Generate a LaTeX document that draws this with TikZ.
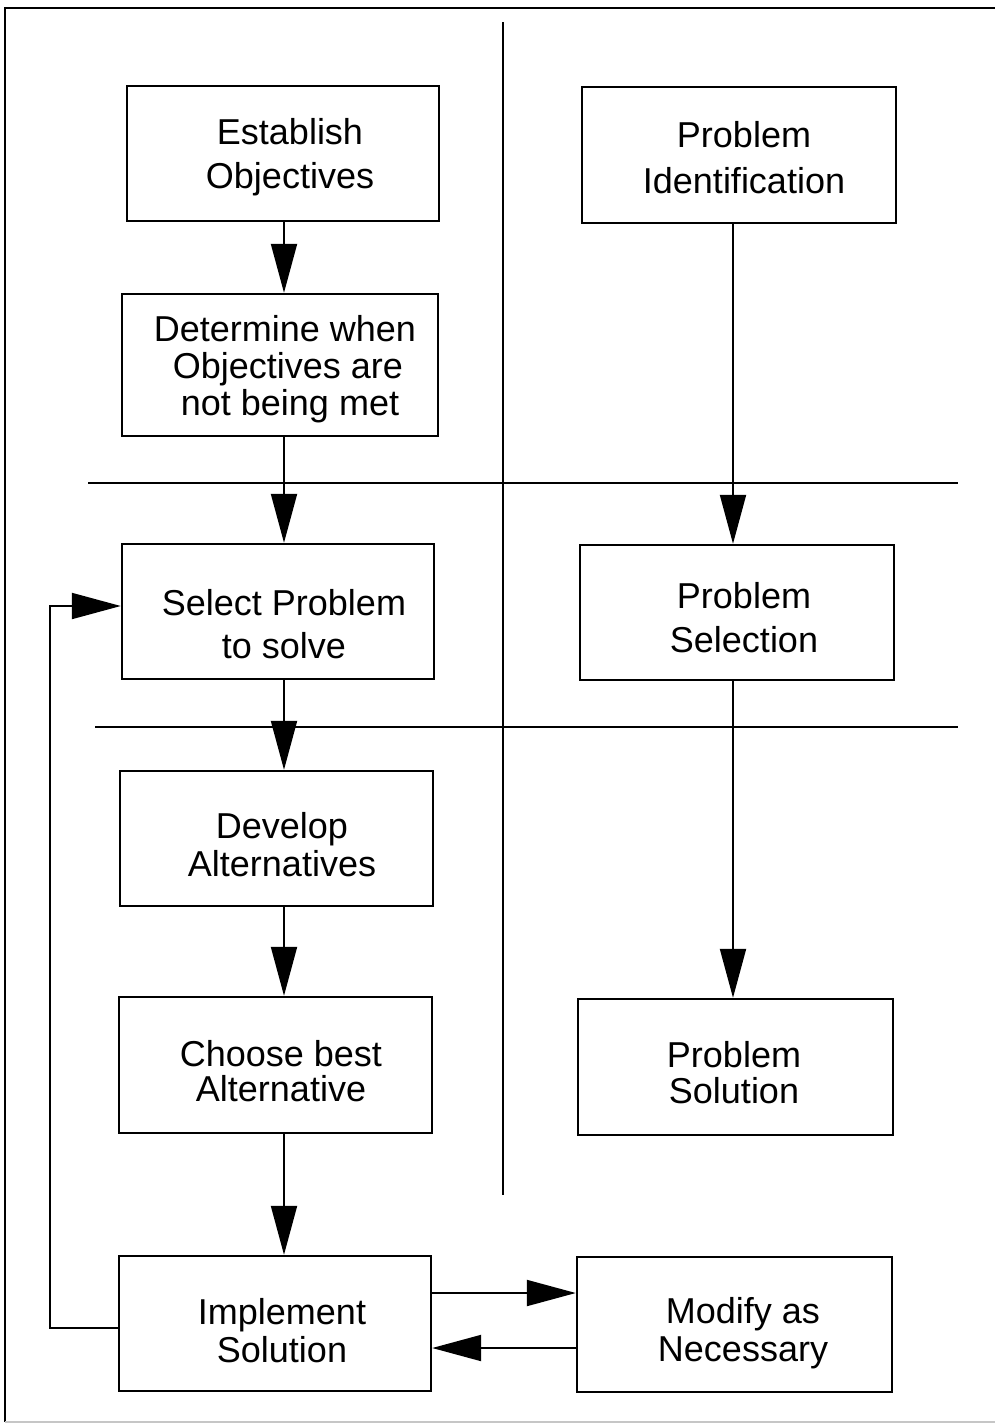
\documentclass[tikz,border=0pt]{standalone}
\usepackage{fontspec}
\setmainfont{Liberation Sans}
\usetikzlibrary{arrows.meta,calc}
\tikzset{
  box/.style={draw, line width=1.2pt, inner sep=0pt},
  txt/.style={inner sep=0pt, align=center, font=\fontsize{18}{22}\selectfont},
  arr/.style={line width=1pt, -{Triangle[length=24.5pt,width=13pt]}},
  divider/.style={line width=0.8pt},
  frame/.style={line width=1.1pt}
}
\newcommand{\boxat}[5]{% name, x1, y1, x2, y2
  \node[box, minimum width={(#4-#2)*0.5pt}, minimum height={(#5-#3)*0.5pt}] (#1) at ({(#2+#4)/2},{(#3+#5)/2}) {};}
\begin{document}
\begin{tikzpicture}[x=0.5pt,y=-0.5pt]
\useasboundingbox (0,0) rectangle (995,1425);
% frame
\coordinate (f1) at (995,8);
\coordinate (f2) at (5,8);
\coordinate (f3) at (5,1422);
\coordinate (f4) at (995,1422);
\draw[frame] (f1) -- (f2) -- (f3);
\draw[frame, gray!45] (f3) -- (f4);
% dividers
\coordinate (v1) at (503,22);
\coordinate (v2) at (503,1195);
\coordinate (h1a) at (88,483);
\coordinate (h1b) at (958,483);
\coordinate (h2a) at (95,727);
\coordinate (h2b) at (958,727);
\draw[divider] (v1) -- (v2);
\draw[divider] (h1a) -- (h1b);
\draw[divider] (h2a) -- (h2b);
% boxes
\boxat{b1}{127}{86}{439}{221}
\boxat{b2}{122}{294}{438}{436}
\boxat{b3}{122}{544}{434}{679}
\boxat{b4}{120}{771}{433}{906}
\boxat{b5}{119}{997}{432}{1133}
\boxat{b6}{119}{1256}{431}{1391}
\boxat{r1}{582}{87}{896}{223}
\boxat{r2}{580}{545}{894}{680}
\boxat{r3}{578}{999}{893}{1135}
\boxat{r4}{577}{1257}{892}{1392}
% texts
\node[txt, font=\fontsize{18}{22}\selectfont] (t1) at (290,157) {Establish\\Objectives};
\node[txt, align=left, font=\fontsize{18}{18.5}\selectfont] (t2) at (285,369) {Determine when\\\hspace{9.5pt}Objectives are\\\hspace{13.5pt}not being met};
\node[txt, font=\fontsize{18}{21.5}\selectfont] (t3) at (284,624) {Select Problem\\to solve};
\node[txt, font=\fontsize{18}{19}\selectfont] (t4) at (282,845) {Develop\\Alternatives};
\node[txt, font=\fontsize{18}{17.5}\selectfont] (t5) at (281,1071) {Choose best\\Alternative};
\node[txt, font=\fontsize{18}{19}\selectfont] (t6) at (282,1331) {Implement\\Solution};
\node[txt, font=\fontsize{18}{23}\selectfont] (t7) at (744,158) {Problem\\Identification};
\node[txt, font=\fontsize{18}{22}\selectfont] (t8) at (744,618) {Problem\\Selection};
\node[txt, font=\fontsize{18}{18}\selectfont] (t9) at (734,1073) {Problem\\Solution};
\node[txt, font=\fontsize{18}{19}\selectfont] (t10) at (743,1333) {Modify as\\Necessary};
% arrow columns
\coordinate (cL) at (284,0);
\coordinate (cR) at (733,0);
\coordinate (fb) at (50,0);
\draw[arr] (b1.south -| cL) -- (b2.north -| cL);
\draw[arr] (b2.south -| cL) -- (b3.north -| cL);
\draw[arr] (b3.south -| cL) -- (b4.north -| cL);
\draw[arr] (b4.south -| cL) -- (b5.north -| cL);
\draw[arr] (b5.south -| cL) -- (b6.north -| cL);
\draw[arr] (r1.south -| cR) -- (r2.north -| cR);
\draw[arr] (r2.south -| cR) -- (r3.north -| cR);
% feedback
\coordinate (fbo) at (0,1328);
\coordinate (fbi) at (0,606);
\draw[arr] (b6.west |- fbo) -- (fb |- fbo) -- (fb |- fbi) -- (b3.west |- fbi);
% implement <-> modify
\coordinate (yA) at (0,1293);
\coordinate (yB) at (0,1348);
\draw[arr] (b6.east |- yA) -- (r4.west |- yA);
\draw[arr] (r4.west |- yB) -- (b6.east |- yB);
\end{tikzpicture}
\end{document}
